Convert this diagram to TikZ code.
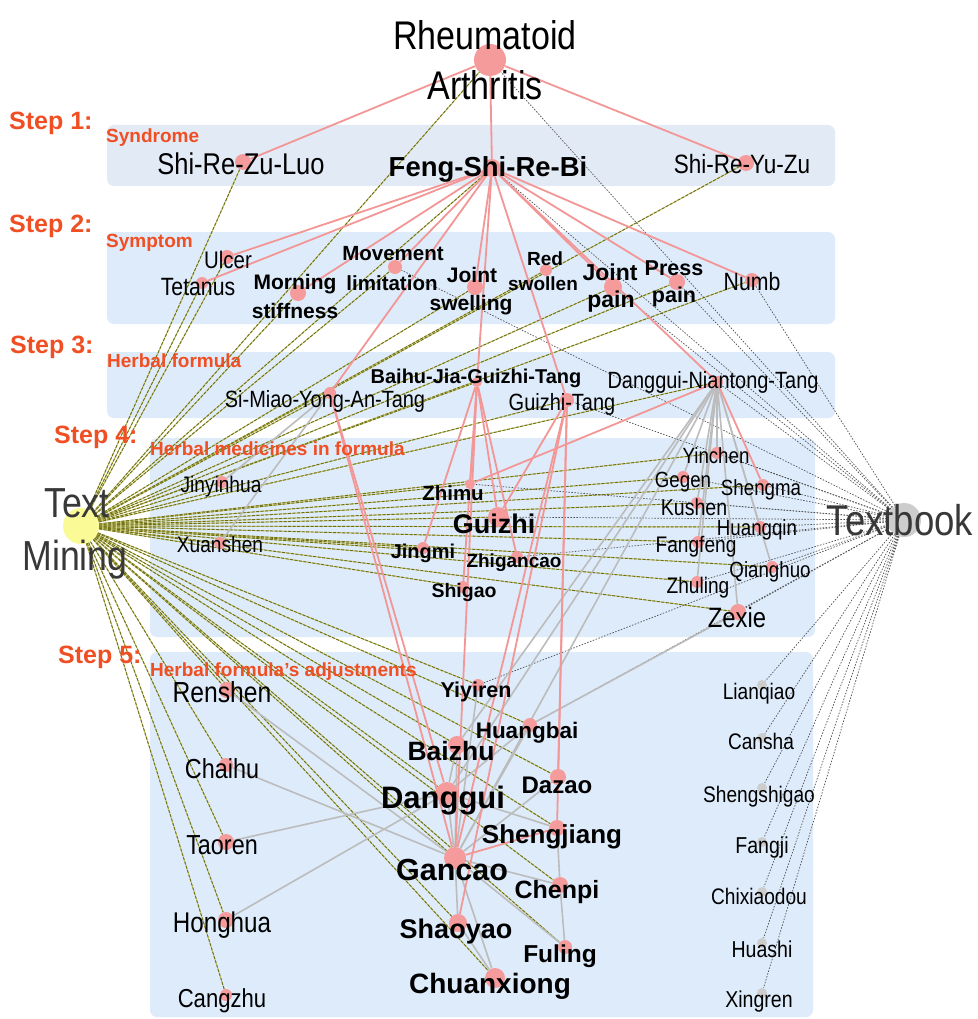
\documentclass[tikz,border=0pt]{standalone}
\usepackage{fontspec}
\setmainfont{Liberation Sans}
\newfontfamily\nar[FakeStretch=0.85]{Liberation Sans}
\pgfdeclarelayer{bg}\pgfdeclarelayer{edges}
\pgfsetlayers{bg,edges,main}
\definecolor{panel}{RGB}{221,235,250}
\definecolor{panelA}{RGB}{226,234,246}
\definecolor{pinkE}{RGB}{243,150,150}
\definecolor{pinkN}{RGB}{245,155,155}
\definecolor{grayE}{RGB}{188,188,188}
\definecolor{grayN}{RGB}{205,205,205}
\definecolor{oliveE}{RGB}{110,110,25}
\definecolor{oliveL}{RGB}{200,200,110}
\definecolor{dotE}{RGB}{80,80,80}
\definecolor{stepc}{RGB}{240,78,35}
\definecolor{yelN}{RGB}{250,250,150}
\newcommand{\fsz}[1]{\fontsize{#1}{#1}\selectfont}
\begin{document}
\begin{tikzpicture}[x=1pt,y=-1pt,
 nd/.style={circle,fill=pinkN,inner sep=0pt,minimum size=#1},
 gn/.style={circle,fill=grayN,inner sep=0pt,minimum size=#1},
 rl/.style={anchor=base,inner sep=0pt,font=\nar\fsz{#1}},
 bl/.style={anchor=base,inner sep=0pt,font=\bfseries\fsz{#1}},
 stp/.style={anchor=base west,inner sep=0pt,text=stepc,font=\bfseries\fsz{25}},
 sub/.style={anchor=base west,inner sep=0pt,text=stepc,font=\bfseries\fsz{19}},
 pnl/.style={fill=panel,rounded corners=7pt},
 redge/.style={draw=pinkE,line width=1.8pt},
 gedge/.style={draw=grayE,line width=1.6pt},
 tmedge/.style={preaction={draw=oliveL,line width=1pt,solid},draw=oliveE,line width=0.9pt,dash pattern=on 3pt off 1.5pt},
 tbedge/.style={draw=dotE,line width=0.7pt,dash pattern=on 1.5pt off 1.5pt},
]
\useasboundingbox (0,0) rectangle (977,1019);
\begin{pgfonlayer}{bg}
\fill[white] (0,0) rectangle (977,1019);
\fill[pnl,fill=panelA] (107,125) rectangle (835,186);
\fill[pnl] (107,232) rectangle (835,324);
\fill[pnl] (107,352) rectangle (835,418);
\fill[pnl] (150,438) rectangle (815,637);
\fill[pnl] (150,652) rectangle (813,1017);
\end{pgfonlayer}

% ---------- circles ----------
\node[nd=32] (RA) at (490,60) {};
\node[circle,fill=yelN,inner sep=0pt,minimum size=36] (TM) at (81,526) {};
\node[gn=34] (TB) at (904,520) {};
\node[nd=16] (SRZL) at (243,162) {};
\node[nd=18] (FSRB) at (492,168) {};
\node[nd=16] (SRYZ) at (746,163) {};
\node[nd=14] (Ulcer) at (227,257) {};
\node[nd=12] (Tetanus) at (202,283) {};
\node[nd=16] (Morning) at (298,293) {};
\node[nd=14] (Movement) at (395,267) {};
\node[nd=16] (JSw) at (475,287) {};
\node[nd=12] (RedSw) at (546,270) {};
\node[nd=18] (JPain) at (613,287) {};
\node[nd=16] (PPain) at (677,282) {};
\node[nd=14] (Numb) at (752,280) {};
\node[nd=12] (SiMiao) at (330,393) {};
\node[nd=10] (Baihu) at (477,382) {};
\node[nd=14] (GZT) at (567,400) {};
\node[nd=12] (DNT) at (717,382) {};
\node[nd=12] (Jinyinhua) at (222,482) {};
\node[nd=12] (Xuanshen) at (220,543) {};
\node[nd=10] (Zhimu) at (470,484) {};
\node[nd=20] (Guizhi) at (498,517) {};
\node[nd=12] (Jingmi) at (423,548) {};
\node[nd=12] (Zhigancao) at (517,557) {};
\node[nd=12] (Shigao) at (463,587) {};
\node[nd=12] (Yinchen) at (717,453) {};
\node[nd=12] (Gegen) at (683,477) {};
\node[nd=12] (Shengma) at (763,485) {};
\node[nd=12] (Kushen) at (697,503) {};
\node[nd=12] (Huangqin) at (760,527) {};
\node[nd=12] (Fangfeng) at (698,542) {};
\node[nd=12] (Qianghuo) at (772,567) {};
\node[nd=12] (Zhuling) at (697,582) {};
\node[nd=16] (Zexie) at (738,612) {};
\node[nd=16] (Renshen) at (227,690) {};
\node[nd=14] (Chaihu) at (226,765) {};
\node[nd=16] (Taoren) at (226,842) {};
\node[nd=16] (Honghua) at (226,920) {};
\node[nd=12] (Cangzhu) at (226,995) {};
\node[nd=12] (Yiyiren) at (478,685) {};
\node[nd=14] (Huangbai) at (530,725) {};
\node[nd=18] (Baizhu) at (457,745) {};
\node[nd=22] (Danggui) at (447,793) {};
\node[nd=16] (Dazao) at (558,777) {};
\node[nd=16] (Shengjiang) at (557,828) {};
\node[nd=22] (Gancao) at (455,858) {};
\node[nd=16] (Chenpi) at (560,885) {};
\node[nd=18] (Shaoyao) at (458,923) {};
\node[nd=14] (Fuling) at (565,947) {};
\node[nd=20] (Chuanxiong) at (495,978) {};
\node[gn=10] (Lianqiao) at (762,685) {};
\node[gn=10] (Cansha) at (762,738) {};
\node[gn=10] (Shengshigao) at (762,788) {};
\node[gn=10] (Fangji) at (762,842) {};
\node[gn=10] (Chixiaodou) at (762,892) {};
\node[gn=10] (Huashi) at (762,943) {};
\node[gn=10] (Xingren) at (762,993) {};

% ---------- edges ----------
\begin{pgfonlayer}{edges}
\foreach \n in {RA,SRZL,FSRB,SRYZ,Ulcer,Tetanus,Morning,Movement,JSw,RedSw,JPain,PPain,Numb,
  SiMiao,Baihu,GZT,DNT,Jinyinhua,Xuanshen,Zhimu,Guizhi,Jingmi,Zhigancao,Shigao,Yinchen,Gegen,
  Shengma,Kushen,Huangqin,Fangfeng,Qianghuo,Zhuling,Zexie,Renshen,Chaihu,Taoren,Honghua,Cangzhu,
  Yiyiren,Huangbai,Baizhu,Danggui,Dazao,Shengjiang,Gancao,Chenpi,Shaoyao,Fuling,Chuanxiong}
  \draw[tmedge] (TM) -- (\n);
\foreach \n in {RA,FSRB,Movement,JPain,PPain,Numb,GZT,DNT,Zhimu,Guizhi,Zhigancao,Yinchen,Gegen,
  Shengma,Kushen,Huangqin,Fangfeng,Qianghuo,Zhuling,Zexie,Yiyiren,Huangbai,Lianqiao,Cansha,
  Shengshigao,Fangji,Chixiaodou,Huashi,Xingren}
  \draw[tbedge] (TB) -- (\n);
% gray
\foreach \a/\b in {SiMiao/Jinyinhua,SiMiao/Xuanshen,DNT/Yinchen,DNT/Gegen,DNT/Kushen,DNT/Fangfeng,
  DNT/Zhuling,DNT/Huangqin,DNT/Qianghuo,DNT/Zexie,DNT/Danggui,DNT/Gancao,DNT/Baizhu,
  Renshen/Gancao,Chaihu/Gancao,Taoren/Danggui,Honghua/Danggui,Zexie/Huangbai,
  Danggui/Gancao,Baizhu/Danggui,Baizhu/Gancao,Gancao/Shaoyao,Gancao/Chuanxiong,Gancao/Chenpi,
  Gancao/Fuling,Shaoyao/Chuanxiong,Shengjiang/Chenpi,Chenpi/Fuling,Huangbai/Danggui,
  Huangbai/Gancao,Dazao/Gancao,Yiyiren/Gancao,Danggui/Shengjiang}
  \draw[gedge] (\a) -- (\b);
% red
\foreach \a/\b in {RA/SRZL,RA/FSRB,RA/SRYZ,FSRB/Ulcer,FSRB/Tetanus,FSRB/Morning,FSRB/Movement,
  FSRB/JSw,FSRB/JPain,FSRB/PPain,FSRB/Numb,FSRB/SiMiao,FSRB/Baihu,FSRB/GZT,FSRB/DNT,
  SiMiao/Danggui,SiMiao/Gancao,Baihu/Zhimu,Baihu/Guizhi,Baihu/Jingmi,Baihu/Shigao,
  Baihu/Zhigancao,Baihu/Gancao,GZT/Guizhi,GZT/Shaoyao,GZT/Gancao,GZT/Shengjiang,GZT/Dazao,
  DNT/Zhimu,DNT/Shengma,Shengjiang/Gancao}
  \draw[redge] (\a) -- (\b);
\end{pgfonlayer}

% ---------- step labels ----------
\node[stp] (s1) at (9,130) {Step 1:};
\node[sub] (t1) at (106,143) {Syndrome};
\node[stp] (s2) at (9,232) {Step 2:};
\node[sub] (t2) at (106,247) {Symptom};
\node[stp] (s3) at (10,353) {Step 3:};
\node[sub] (t3) at (107,367) {Herbal formula};
\node[stp] (s4) at (54,443) {Step 4:};
\node[sub] (t4) at (150,455) {Herbal medicines in formula};
\node[stp] (s5) at (58,663) {Step 5:};
\node[sub] (t5) at (150,676) {Herbal formula's adjustments};

% ---------- labels ----------
\node[rl=40] (lRA1) at (485,50) {Rheumatoid};
\node[rl=40] (lRA2) at (485,100) {Arthritis};
\node[rl=42,text=black!78] (lTM1) at (77,517) {Text};
\node[rl=42,text=black!78] (lTM2) at (75,570) {Mining};
\node[rl=43,text=black!78] (lTB) at (900,535) {Textbook};
\node[rl=30] (lSRZL) at (241,175) {Shi-Re-Zu-Luo};
\node[bl=27.5] (lFSRB) at (488,177) {Feng-Shi-Re-Bi};
\node[rl=26.5] (lSRYZ) at (742,174) {Shi-Re-Yu-Zu};
\node[rl=24] (lUlcer) at (228,268) {Ulcer};
\node[rl=25] (lTetanus) at (198,295) {Tetanus};
\node[bl=21] (lMor1) at (295,289) {Morning};
\node[bl=21] (lMor2) at (295,318) {stiffness};
\node[bl=20.5] (lMov1) at (393,260) {Movement};
\node[bl=20.5] (lMov2) at (392,290) {limitation};
\node[bl=21] (lJS1) at (472,282) {Joint};
\node[bl=21] (lJS2) at (471,310) {swelling};
\node[bl=19] (lRS1) at (545,265) {Red};
\node[bl=19] (lRS2) at (543,290) {swollen};
\node[bl=23] (lJP1) at (610,280) {Joint};
\node[bl=23] (lJP2) at (611,307) {pain};
\node[bl=21.5] (lPP1) at (674,275) {Press};
\node[bl=21.5] (lPP2) at (674,302) {pain};
\node[rl=25] (lNumb) at (752,290) {Numb};
\node[rl=23.5] (lSiMiao) at (325,407) {Si-Miao-Yong-An-Tang};
\node[bl=20] (lBaihu) at (476,383) {Baihu-Jia-Guizhi-Tang};
\node[rl=23.5] (lGZT) at (562,410) {Guizhi-Tang};
\node[rl=23.5] (lDNT) at (713,388) {Danggui-Niantong-Tang};
\node[rl=22.5] (lJinyinhua) at (221,492) {Jinyinhua};
\node[rl=22.5] (lXuanshen) at (220,552) {Xuanshen};
\node[bl=20.5] (lZhimu) at (453,500) {Zhimu};
\node[bl=27] (lGuizhi) at (494,533) {Guizhi};
\node[bl=20] (lJingmi) at (423,558) {Jingmi};
\node[bl=19] (lZhigancao) at (514,567) {Zhigancao};
\node[bl=19.5] (lShigao) at (464,597) {Shigao};
\node[rl=22] (lYinchen) at (716,463) {Yinchen};
\node[rl=22] (lGegen) at (683,487) {Gegen};
\node[rl=22] (lShengma) at (761,495) {Shengma};
\node[rl=23] (lKushen) at (694,515) {Kushen};
\node[rl=22] (lHuangqin) at (757,535) {Huangqin};
\node[rl=22.5] (lFangfeng) at (696,552) {Fangfeng};
\node[rl=22] (lQianghuo) at (770,577) {Qianghuo};
\node[rl=22.5] (lZhuling) at (698,593) {Zhuling};
\node[rl=28] (lZexie) at (737,627) {Zexie};
\node[rl=29] (lRenshen) at (222,702) {Renshen};
\node[rl=27.5] (lChaihu) at (222,778) {Chaihu};
\node[rl=27.5] (lTaoren) at (222,854) {Taoren};
\node[rl=28.5] (lHonghua) at (222,932) {Honghua};
\node[rl=26] (lCangzhu) at (222,1007) {Cangzhu};
\node[bl=21.5] (lYiyiren) at (476,697) {Yiyiren};
\node[bl=22.5] (lHuangbai) at (527,738) {Huangbai};
\node[bl=26.5] (lBaizhu) at (451,760) {Baizhu};
\node[bl=31] (lDanggui) at (443,808) {Danggui};
\node[bl=24] (lDazao) at (557,793) {Dazao};
\node[bl=26] (lShengjiang) at (552,843) {Shengjiang};
\node[bl=30.5] (lGancao) at (452,880) {Gancao};
\node[bl=25] (lChenpi) at (557,898) {Chenpi};
\node[bl=27] (lShaoyao) at (456,938) {Shaoyao};
\node[bl=24.5] (lFuling) at (560,962) {Fuling};
\node[bl=28] (lChuanxiong) at (490,993) {Chuanxiong};
\node[rl=22.5] (lLianqiao) at (759,699) {Lianqiao};
\node[rl=22.5] (lCansha) at (761,749) {Cansha};
\node[rl=22.5] (lShengshigao) at (759,802) {Shengshigao};
\node[rl=23] (lFangji) at (762,853) {Fangji};
\node[rl=22.5] (lChixiaodou) at (759,904) {Chixiaodou};
\node[rl=23] (lHuashi) at (762,957) {Huashi};
\node[rl=23] (lXingren) at (759,1007) {Xingren};
\end{tikzpicture}
\end{document}
